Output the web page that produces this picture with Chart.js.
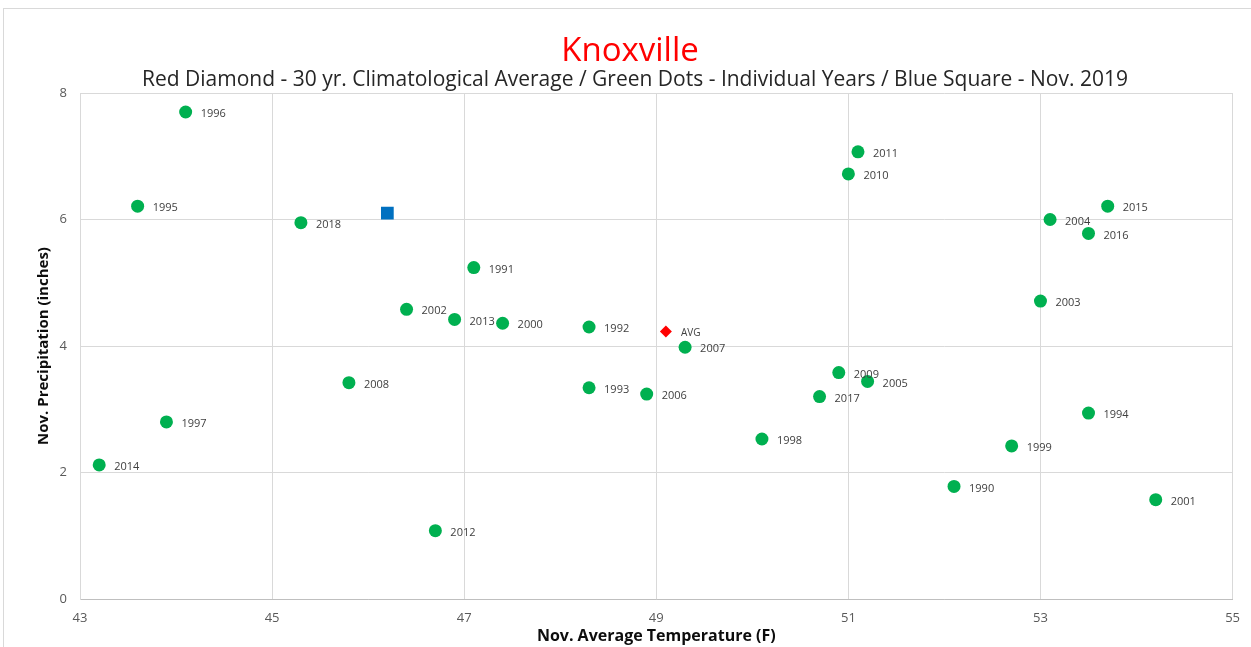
<!DOCTYPE html>
<html lang="en">
<head>
<meta charset="UTF-8">
<title>Knoxville</title>
<script src="https://cdn.jsdelivr.net/npm/chart.js@4.4.1/dist/chart.umd.min.js"></script>
<style>
    html, body { margin: 0; padding: 0; background: #fff; overflow: hidden; }
    #wrap { position: relative; width: 1251px; height: 647px; }
    #frame { position: absolute; left: 3px; top: 8px; right: -2px; bottom: -2px;
             border-top: 1px solid #d9d9d9; border-left: 1px solid #d9d9d9; }
    canvas { position: absolute; left: 0; top: 0; }
</style>
</head>
<body>
<div id="wrap">
    <div id="frame"></div>
    <canvas id="scatterChart" width="1251" height="647"></canvas>
</div>
<script>
// ============================================================
// Knoxville November temperature vs precipitation
// ============================================================

// individual years (green dots)
const years = [1990, 1991, 1992, 1993, 1994, 1995, 1996, 1997, 1998, 1999,
               2000, 2001, 2002, 2003, 2004, 2005, 2006, 2007, 2008, 2009,
               2010, 2011, 2012, 2013, 2014, 2015, 2016, 2017, 2018];
const yearTemps = [52.1, 47.1, 48.3, 48.3, 53.5, 43.6, 44.1, 43.9, 50.1, 52.7,
                   47.4, 54.2, 46.4, 53.0, 53.1, 51.2, 48.9, 49.3, 45.8, 50.9,
                   51.0, 51.1, 46.7, 46.9, 43.2, 53.7, 53.5, 50.7, 45.3];
const yearPrecip = [1.78, 5.24, 4.30, 3.34, 2.94, 6.21, 7.70, 2.80, 2.53, 2.42,
                    4.36, 1.57, 4.58, 4.71, 6.00, 3.44, 3.24, 3.98, 3.42, 3.58,
                    6.72, 7.07, 1.08, 4.42, 2.12, 6.21, 5.78, 3.20, 5.95];

// 30 yr. average (red diamond)
const avgTemp = [49.1];
const avgPrecip = [4.23];

// Nov. 2019 (blue square)
const nov2019Temp = [46.2];
const nov2019Precip = [6.10];

// axis ticks
const xTicks = [43, 45, 47, 49, 51, 53, 55];
const yTicks = [0, 2, 4, 6, 8];

const titleText = 'Knoxville';
const subtitleText = 'Red Diamond - 30 yr. Climatological Average / Green Dots - Individual Years / Blue Square - Nov. 2019';

const FONT = '"Open Sans", "DejaVu Sans", sans-serif';

const toPoints = (xs, ys) => xs.map((x, i) => ({ x, y: ys[i] }));

// year labels next to each point
const pointLabels = {
    id: 'pointLabels',
    afterDatasetsDraw(chart) {
        const { ctx } = chart;
        chart.data.datasets.forEach((ds, i) => {
            if (!ds.pointLabels) return;
            const meta = chart.getDatasetMeta(i);
            ctx.save();
            ctx.fillStyle = '#404040';
            ctx.font = ds.labelFont;
            ctx.textAlign = 'left';
            ctx.textBaseline = 'middle';
            meta.data.forEach((pt, j) => {
                ctx.fillText(String(ds.pointLabels[j]), pt.x + 15, pt.y + 2);
            });
            ctx.restore();
        });
    },
};

// title + subtitle
const headings = {
    id: 'headings',
    afterDraw(chart) {
        const { ctx } = chart;
        ctx.save();
        ctx.textAlign = 'center';
        ctx.textBaseline = 'alphabetic';
        ctx.fillStyle = '#ff0000';
        ctx.font = `33px ${FONT}`;
        ctx.fillText(titleText, 630, 61);
        ctx.fillStyle = '#262626';
        ctx.font = `21px ${FONT}`;
        ctx.fillText(subtitleText, 635, 86);
        ctx.restore();
    },
};

new Chart(document.getElementById('scatterChart').getContext('2d'), {
    type: 'scatter',
    data: {
        datasets: [
            {
                label: 'Individual Years',
                data: toPoints(yearTemps, yearPrecip),
                pointLabels: years,
                labelFont: `11px ${FONT}`,
                pointStyle: 'circle',
                pointRadius: 6.5,
                pointHoverRadius: 6.5,
                backgroundColor: '#00b050',
                borderColor: '#00b050',
                borderWidth: 0,
            },
            {
                label: '30 yr. Average',
                data: toPoints(avgTemp, avgPrecip),
                pointLabels: ['AVG'],
                labelFont: `10px ${FONT}`,
                pointStyle: 'rectRot',
                pointRadius: 6,
                pointHoverRadius: 6,
                backgroundColor: '#ff0000',
                borderColor: '#ff0000',
                borderWidth: 0,
            },
            {
                label: 'Nov. 2019',
                data: toPoints(nov2019Temp, nov2019Precip),
                pointStyle: 'rect',
                pointRadius: 9,
                pointHoverRadius: 9,
                backgroundColor: '#0070c0',
                borderColor: '#0070c0',
                borderWidth: 0,
            },
        ],
    },
    options: {
        responsive: false,
        animation: false,
        devicePixelRatio: 1,
        layout: { padding: { top: 93, right: 17, bottom: 0, left: 0 } },
        plugins: {
            legend: { display: false },
            title: { display: false },
            tooltip: { enabled: false },
        },
        scales: {
            x: {
                type: 'linear',
                min: 43,
                max: 55,
                afterBuildTicks: (scale) => { scale.ticks = xTicks.map(v => ({ value: v })); },
                afterFit: (scale) => { scale.height = 48; },
                ticks: { color: '#595959', font: { family: FONT, size: 13 }, padding: 11 },
                grid: { color: '#d9d9d9', drawTicks: false },
                border: { color: '#bfbfbf', width: 1 },
                title: {
                    display: true,
                    text: 'Nov. Average Temperature (F)',
                    color: '#0d0d0d',
                    font: { family: FONT, size: 16, weight: 'bold' },
                    padding: { top: 0, bottom: 1 },
                },
            },
            y: {
                type: 'linear',
                min: 0,
                max: 8,
                afterBuildTicks: (scale) => { scale.ticks = yTicks.map(v => ({ value: v })); },
                afterFit: (scale) => { scale.width = 80; },
                ticks: { color: '#595959', font: { family: FONT, size: 13 }, padding: 13 },
                grid: { color: '#d9d9d9', drawTicks: false },
                border: { color: '#d9d9d9', width: 1 },
                title: {
                    display: true,
                    text: 'Nov. Precipitation (inches)',
                    color: '#0d0d0d',
                    font: { family: FONT, size: 15, weight: 'bold' },
                    padding: { top: 35, bottom: 0 },
                },
            },
        },
    },
    plugins: [pointLabels, headings],
});
</script>
</body>
</html>
